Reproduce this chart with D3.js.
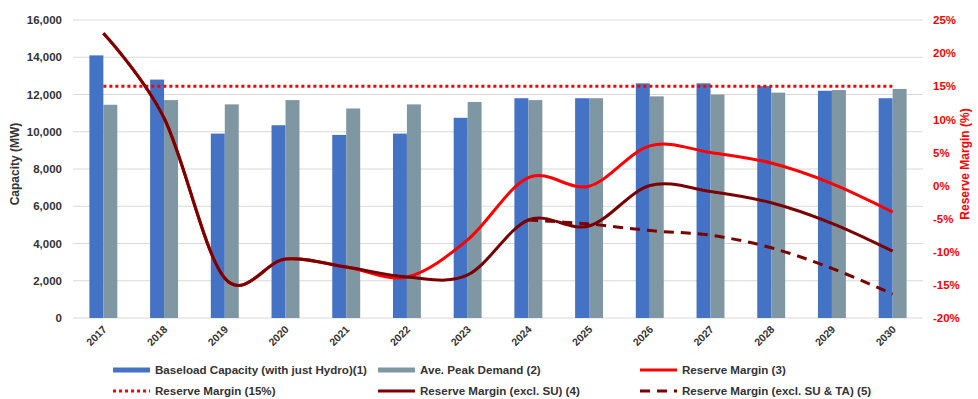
<!DOCTYPE html>
<html>
<head>
<meta charset="utf-8">
<script src="https://cdn.jsdelivr.net/npm/d3@7"></script>
<style>
  body { margin: 0; background: #fff; }
  svg { display: block; font-family: "Liberation Sans", Arial, sans-serif; }
</style>
</head>
<body>
<svg id="chart" width="978" height="399"></svg>
<script>
// Years on the x axis
const years = ["2017","2018","2019","2020","2021","2022","2023","2024","2025","2026","2027","2028","2029","2030"];

// Capacity bars (MW)
const baseloadCapacity = [14100, 12800, 9900, 10350, 9830, 9900, 10750, 11800, 11800, 12600, 12600, 12450, 12200, 11800];
const peakDemand       = [11450, 11700, 11470, 11700, 11250, 11470, 11600, 11700, 11800, 11900, 12000, 12100, 12240, 12300];

// Reserve margin lines (%)
const reserveMargin      = [23, 10.2, -14, -11.1, -12.3, -13.8, -8.2, 1.2, -0.1, 6, 5, 3.4, 0.3, -4];
const reserveExclSU      = [23, 10.2, -14, -11.1, -12.3, -13.8, -13.5, -5.2, -6.1, 0, -0.9, -2.6, -5.7, -9.9];
const reserveExclSUTAYears = ["2024","2025","2026","2027","2028","2029","2030"];
const reserveExclSUTA    = [-5.2, -5.8, -6.8, -7.5, -9.4, -12.5, -16.4];
const targetMargin = 15;

// Axis ticks
const capacityTicks = [0, 2000, 4000, 6000, 8000, 10000, 12000, 14000, 16000];
const marginTicks = [-20, -15, -10, -5, 0, 5, 10, 15, 20, 25];

const svg = d3.select("#chart");
const plotLeft = 73, plotRight = 923, plotTop = 20, plotBottom = 318;

const x = d3.scaleBand().domain(years).range([plotLeft, plotRight]).paddingInner(0.54).paddingOuter(0.27);
const xSub = d3.scaleBand().domain(["cap", "dem"]).range([0, x.bandwidth()]);
const yL = d3.scaleLinear().domain([0, 16000]).range([plotBottom, plotTop]);
const yR = d3.scaleLinear().domain([-20, 25]).range([plotBottom, plotTop]);
const cx = d => x(d) + x.bandwidth() / 2;

// Gridlines
svg.append("g").selectAll("line").data(capacityTicks).join("line")
  .attr("x1", plotLeft).attr("x2", plotRight)
  .attr("y1", d => yL(d)).attr("y2", d => yL(d))
  .attr("stroke", "#d9d9d9").attr("stroke-width", 1);

// Left axis
const axL = svg.append("g").attr("transform", `translate(${plotLeft},0)`)
  .call(d3.axisLeft(yL).tickValues(capacityTicks).tickFormat(d3.format(",")).tickSize(0).tickPadding(11));
axL.select(".domain").remove();
axL.selectAll("text").attr("font-size", 11.5).attr("font-weight", "bold").attr("fill", "#333")
  .attr("font-family", "Liberation Sans, Arial, sans-serif");

// Right axis
const axR = svg.append("g").attr("transform", `translate(${plotRight},0)`)
  .call(d3.axisRight(yR).tickValues(marginTicks).tickFormat(d => d + "%").tickSize(0).tickPadding(10));
axR.select(".domain").remove();
axR.selectAll("text").attr("font-size", 11.5).attr("font-weight", "bold").attr("fill", "#ff0000")
  .attr("font-family", "Liberation Sans, Arial, sans-serif");

// Bottom axis labels
const axB = svg.append("g").attr("transform", `translate(0,${plotBottom})`)
  .call(d3.axisBottom(x).tickSize(0).tickPadding(0));
axB.select(".domain").remove();
axB.selectAll("text")
  .attr("font-size", 10.5).attr("font-weight", "bold").attr("fill", "#333")
  .attr("font-family", "Liberation Sans, Arial, sans-serif")
  .attr("text-anchor", "end")
  .attr("dy", 0)
  .attr("transform", "translate(4,12) rotate(-45)");

// Axis titles
svg.append("text")
  .attr("transform", `translate(19,${(plotTop + plotBottom) / 2 - 5}) rotate(-90)`)
  .attr("text-anchor", "middle").attr("font-size", 12).attr("font-weight", "bold").attr("fill", "#333")
  .text("Capacity (MW)");
svg.append("text")
  .attr("transform", `translate(969,${(plotTop + plotBottom) / 2 - 5}) rotate(-90)`)
  .attr("text-anchor", "middle").attr("font-size", 12).attr("font-weight", "bold").attr("fill", "#ff0000")
  .text("Reserve Margin (%)");

// Bars
const bars = svg.append("g");
bars.selectAll("rect.cap").data(years).join("rect").attr("class", "cap")
  .attr("x", d => x(d) + xSub("cap")).attr("width", xSub.bandwidth())
  .attr("y", (d, i) => yL(baseloadCapacity[i])).attr("height", (d, i) => yL(0) - yL(baseloadCapacity[i]))
  .attr("fill", "#4472c4");
bars.selectAll("rect.dem").data(years).join("rect").attr("class", "dem")
  .attr("x", d => x(d) + xSub("dem")).attr("width", xSub.bandwidth())
  .attr("y", (d, i) => yL(peakDemand[i])).attr("height", (d, i) => yL(0) - yL(peakDemand[i]))
  .attr("fill", "#7f97a3");

// Lines
const curve = d3.curveCardinal.tension(0);
const lineGen = d3.line().x(d => cx(d[0])).y(d => yR(d[1])).curve(curve);

// Target margin (dotted)
svg.append("path")
  .attr("d", d3.line().x(d => cx(d[0])).y(d => yR(d[1]))([[years[0], targetMargin], [years[years.length - 1], targetMargin]]))
  .attr("fill", "none").attr("stroke", "#ff0000").attr("stroke-width", 3)
  .attr("stroke-dasharray", "3,3");

svg.append("path")
  .attr("d", lineGen(years.map((y, i) => [y, reserveMargin[i]])))
  .attr("fill", "none").attr("stroke", "#ff0000").attr("stroke-width", 3);

svg.append("path")
  .attr("d", lineGen(reserveExclSUTAYears.map((y, i) => [y, reserveExclSUTA[i]])))
  .attr("fill", "none").attr("stroke", "#7a0000").attr("stroke-width", 3)
  .attr("stroke-dasharray", "10,7");

svg.append("path")
  .attr("d", lineGen(years.map((y, i) => [y, reserveExclSU[i]])))
  .attr("fill", "none").attr("stroke", "#7a0000").attr("stroke-width", 3);

// Legend
const legendItems = [
  { label: "Baseload Capacity (with just Hydro)(1)", type: "bar", color: "#4472c4", x: 113, y: 370 },
  { label: "Ave. Peak Demand (2)", type: "bar", color: "#7f97a3", x: 378, y: 370 },
  { label: "Reserve Margin (3)", type: "line", color: "#ff0000", x: 640, y: 370 },
  { label: "Reserve Margin (15%)", type: "dot", color: "#ff0000", x: 113, y: 391 },
  { label: "Reserve Margin (excl. SU) (4)", type: "line", color: "#7a0000", x: 378, y: 391 },
  { label: "Reserve Margin (excl. SU & TA) (5)", type: "dash", color: "#7a0000", x: 640, y: 391 }
];
const lg = svg.append("g").selectAll("g").data(legendItems).join("g")
  .attr("transform", d => `translate(${d.x},${d.y})`);
lg.append("line")
  .attr("x1", 0).attr("x2", 37).attr("y1", 0).attr("y2", 0)
  .attr("stroke", d => d.color)
  .attr("stroke-width", d => d.type === "bar" ? 5 : 3)
  .attr("stroke-dasharray", d => d.type === "dot" ? "3,3" : d.type === "dash" ? "10,7" : null);
lg.append("text")
  .attr("x", 42).attr("y", 0).attr("dy", "0.35em")
  .attr("font-size", 11.6).attr("font-weight", "bold").attr("fill", "#333")
  .text(d => d.label);
</script>
</body>
</html>
